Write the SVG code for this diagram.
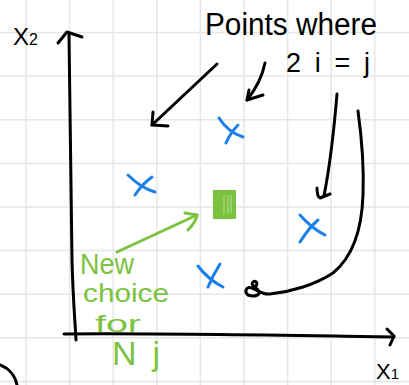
<svg xmlns="http://www.w3.org/2000/svg" width="409" height="385" viewBox="0 0 409 385">
<style>
.grid{stroke:#e6e6e6;stroke-width:1.5;fill:none}
.ink{stroke:#000;stroke-width:3;fill:none;stroke-linecap:round;stroke-linejoin:round}
.blue{stroke:#1a80e8;stroke-width:3;fill:none;stroke-linecap:round;stroke-linejoin:round}
.green{stroke:#7cc241;stroke-width:3;fill:none;stroke-linecap:round;stroke-linejoin:round}
.hw{font-family:"Liberation Sans",Arial,sans-serif}
.bt{fill:#000}
.gt{fill:#7cc241}
</style>
<rect width="409" height="385" fill="#fff"/>
<g id="grid" class="grid">
<path d="M26,0V385M69.6,0V385M113.2,0V385M156.8,0V385M200.4,0V385M244,0V385M287.6,0V385M331.2,0V385M374.8,0V385"/>
<path d="M0,32.5H409M0,76H409M0,119.8H409M0,163.4H409M0,207H409M0,250.6H409M0,294.2H409M0,337.8H409M0,381.4H409"/>
</g>
<g id="axes">
<path class="ink" d="M69,35 C70,120 71,200 72,260 C73,300 75,320 76,340"/>
<path class="ink" d="M58,43 L67,32 L82,37"/>
<path class="ink" d="M64,334 C160,333 260,335 394,337"/>
<path class="ink" d="M387,329 L394,336 L390,345"/>
<text class="hw bt" x="13" y="45" font-size="24">X<tspan font-size="16">2</tspan></text>
<text class="hw bt" x="376" y="379" font-size="22">X<tspan font-size="15">1</tspan></text>
<path class="ink" d="M0,365 A27,27 0 0 1 17,385"/>
</g>
<g id="label-points">
<text class="hw bt" x="205" y="35" font-size="31" textLength="172" lengthAdjust="spacingAndGlyphs">Points where</text>
<text class="hw bt" x="286" y="72" font-size="27" textLength="84" lengthAdjust="spacing">2i=j</text>
</g>
<g id="connectors">
<path class="ink" d="M217,64 L152,125"/>
<path class="ink" d="M153,112 L152,125 L168,126"/>
<path class="ink" d="M265,63 C262,78 255,90 247,100"/>
<path class="ink" d="M249,90 L247,100 L263,95"/>
<path class="ink" d="M337,94 C334,130 331,160 324,196"/>
<path class="ink" d="M317,188 C317,194 318,197 320,198 L330,194"/>
<path class="ink" d="M358,111 C362,140 364,170 363,195 C362,225 355,255 333,273 C315,285 290,292 270,294 C262,295 258,290 252,288 C246,286 244,292 248,295 C253,297 262,296 258,290 C255,286 250,285 253,282 C256,280 258,283 256,286"/>
<path class="green" d="M117,252 L197,215"/>
<path class="green" d="M185,213 L197,215 C196,221 192,226 188,230"/>
</g>
<g id="point-1"><path class="blue" d="M219,118 C224,126 231,133 243,137 M226,143 C229,136 233,130 238,125"/></g>
<g id="point-2"><path class="blue" d="M128,175 C135,182 144,189 155,192 M135,195 C139,189 145,182 152,177"/></g>
<g id="point-3"><path class="blue" d="M300,215 C307,223 315,230 325,235 M300,242 C305,234 311,226 318,220"/></g>
<g id="point-4"><path class="blue" d="M198,266 C204,274 213,282 223,287 M208,287 C211,280 215,272 220,264"/></g>
<g id="new-point">
<rect x="213" y="190" width="23" height="29" fill="#7cc241"/>
<path d="M224,195V214M228,195V214M231,195V213" stroke="#b4dc8c" stroke-width="1" fill="none"/>
</g>
<g id="label-new">
<text class="hw gt" x="80" y="274" font-size="29" textLength="54" lengthAdjust="spacingAndGlyphs">New</text>
<text class="hw gt" x="83" y="302" font-size="25" textLength="86" lengthAdjust="spacingAndGlyphs">choice</text>
<text class="hw gt" x="95" y="332" font-size="24" textLength="46" lengthAdjust="spacingAndGlyphs">for</text>
<text class="hw gt" x="112" y="365" font-size="34" textLength="48" lengthAdjust="spacing">Nj</text>
</g>
</svg>
